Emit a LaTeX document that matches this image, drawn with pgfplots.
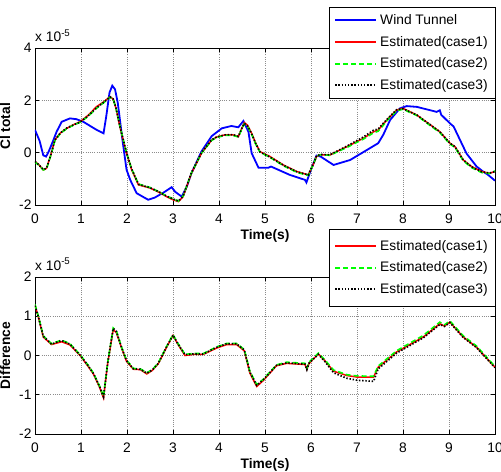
\documentclass[border=0pt]{standalone}
\usepackage{fontspec}
\setmainfont{Liberation Sans}
\usepackage{pgfplots}
\usepackage{pgfplotstable}
\pgfplotsset{compat=1.18}

\definecolor{wtblue}{RGB}{0,0,255}
\definecolor{c1red}{RGB}{255,0,0}
\definecolor{c2green}{RGB}{0,255,0}

\newcommand\chartfont{\fontsize{13.8bp}{16bp}\selectfont}

% Wind tunnel measurement (units of 1e-5)
\pgfplotstableread{
t      v
0.00   0.87
0.10   0.45
0.18  -0.10
0.24  -0.15
0.30   0.05
0.40   0.48
0.47   0.80
0.58   1.18
0.76   1.31
0.90   1.28
1.05   1.18
1.20   1.02
1.35   0.86
1.49   0.74
1.55   1.40
1.62   2.30
1.68   2.56
1.74   2.42
1.80   1.90
1.90   0.50
1.99  -0.65
2.07  -1.04
2.21  -1.55
2.46  -1.80
2.60  -1.72
2.80  -1.52
2.97  -1.32
3.05  -1.50
3.19  -1.68
3.30  -1.30
3.40  -0.79
3.62   0.05
3.84   0.63
4.06   0.93
4.27   1.02
4.42   0.97
4.53   1.21
4.64   0.80
4.71  -0.02
4.86  -0.58
5.07  -0.58
5.13  -0.53
5.54  -0.85
5.87  -1.04
5.90  -1.14
6.00  -0.65
6.12  -0.11
6.21  -0.15
6.49  -0.47
6.85  -0.28
7.28   0.17
7.46   0.36
7.57   0.68
7.72   1.25
7.93   1.69
8.08   1.78
8.30   1.75
8.73   1.56
8.80   1.62
8.83   1.45
9.02   1.12
9.10   1.00
9.38  -0.03
9.60  -0.53
9.74  -0.72
9.85  -0.85
10.00 -1.07
}\windtunnel

% Estimated Cl total, three cases (units of 1e-5)
\pgfplotstableread{
t      c1     c2     c3
0.00  -0.34  -0.36  -0.33
0.08  -0.45  -0.47  -0.46
0.18  -0.66  -0.66  -0.64
0.25  -0.60  -0.62  -0.60
0.35  -0.05  -0.08  -0.05
0.43   0.48   0.45   0.47
0.55   0.75   0.73   0.75
0.69   0.93   0.92   0.94
0.85   1.08   1.06   1.07
0.98   1.18   1.16   1.17
1.15   1.42   1.38   1.40
1.34   1.76   1.70   1.72
1.50   1.95   1.92   1.93
1.63   2.14   2.12   2.13
1.70   2.05   2.04   2.05
1.76   1.70   1.70   1.72
1.85   0.95   0.98   0.98
1.99  -0.02   0.00   0.00
2.10  -0.65  -0.62  -0.62
2.25  -1.23  -1.20  -1.21
2.50  -1.35  -1.33  -1.34
2.70  -1.52  -1.50  -1.50
2.86  -1.68  -1.66  -1.66
3.00  -1.80  -1.76  -1.77
3.12  -1.87  -1.85  -1.85
3.22  -1.68  -1.66  -1.66
3.40  -0.79  -0.78  -0.77
3.62  -0.02  -0.02   0.00
3.84   0.48   0.47   0.49
3.95   0.60   0.58   0.60
4.13   0.68   0.66   0.68
4.30   0.68   0.66   0.69
4.42   0.61   0.60   0.62
4.50   0.95   0.92   0.94
4.55   1.15   1.10   1.12
4.62   1.05   1.00   1.02
4.71   0.74   0.70   0.72
4.80   0.35   0.32   0.34
4.89   0.04   0.02   0.03
5.11  -0.15  -0.18  -0.17
5.40  -0.47  -0.50  -0.48
5.69  -0.72  -0.75  -0.73
5.94  -0.85  -0.87  -0.85
6.05  -0.45  -0.45  -0.43
6.12  -0.15  -0.14  -0.13
6.20  -0.08  -0.08  -0.07
6.41  -0.09  -0.10  -0.08
6.78   0.23   0.20   0.25
7.14   0.55   0.52   0.60
7.36   0.80   0.76   0.86
7.46   0.86   0.82   0.90
7.55   1.05   1.00   1.08
7.65   1.25   1.22   1.27
7.86   1.63   1.60   1.64
8.00   1.69   1.66   1.68
8.30   1.44   1.42   1.44
8.55   1.12   1.09   1.12
8.80   0.80   0.77   0.80
9.02   0.36   0.33   0.36
9.13   0.23   0.20   0.23
9.31  -0.28  -0.31  -0.28
9.49  -0.53  -0.57  -0.54
9.71  -0.72  -0.76  -0.73
9.88  -0.79  -0.80  -0.78
10.00 -0.72  -0.70  -0.72
}\estimated

% Difference between measurement and estimate (units of 1e-5)
\pgfplotstableread{
t      c1     c2     c3
0.00   1.28   1.30   1.27
0.08   0.95   0.97   0.96
0.18   0.47   0.50   0.49
0.36   0.28   0.30   0.29
0.45   0.31   0.34   0.33
0.58   0.35   0.39   0.38
0.76   0.27   0.30   0.29
0.98   0.00   0.02   0.01
1.15  -0.27  -0.24  -0.25
1.27  -0.47  -0.45  -0.46
1.40  -0.80  -0.77  -0.78
1.49  -1.08  -1.04  -1.05
1.58  -0.20  -0.18  -0.19
1.70   0.66   0.70   0.69
1.77   0.58   0.62   0.61
1.88   0.20   0.22   0.21
1.99  -0.15  -0.12  -0.13
2.14  -0.35  -0.33  -0.34
2.29  -0.36  -0.34  -0.35
2.43  -0.47  -0.44  -0.45
2.55  -0.38  -0.36  -0.37
2.68  -0.21  -0.19  -0.20
2.86   0.21   0.23   0.22
3.00   0.51   0.53   0.52
3.10   0.30   0.32   0.31
3.26   0.00   0.03   0.02
3.45   0.03   0.05   0.04
3.66   0.03   0.05   0.04
3.95   0.19   0.22   0.21
4.17   0.28   0.31   0.30
4.38   0.28   0.31   0.30
4.55   0.12   0.15   0.14
4.67  -0.44  -0.40  -0.42
4.82  -0.79  -0.74  -0.76
4.96  -0.64  -0.61  -0.62
5.25  -0.26  -0.24  -0.25
5.47  -0.20  -0.17  -0.19
5.87  -0.23  -0.20  -0.22
5.91  -0.35  -0.32  -0.36
5.96  -0.20  -0.17  -0.19
6.16   0.04   0.06   0.03
6.30  -0.13  -0.11  -0.15
6.49  -0.40  -0.37  -0.44
6.78  -0.51  -0.49  -0.58
7.00  -0.55  -0.52  -0.63
7.36  -0.55  -0.53  -0.66
7.46  -0.30  -0.27  -0.34
7.86   0.09   0.12   0.06
8.44   0.47   0.51   0.45
8.80   0.81   0.85   0.79
8.90   0.75   0.78   0.74
9.02   0.85   0.88   0.84
9.31   0.47   0.50   0.46
9.60   0.21   0.24   0.20
10.00 -0.30  -0.28  -0.31
}\difference

\pgfplotsset{
  panel/.style={
    scale only axis, width=460bp, height=157bp,
    anchor=south west,
    xmin=0, xmax=10,
    xtick={0,1,2,3,4,5,6,7,8,9,10},
    xticklabels={0,1,2,3,4,5,6,7,8,9,10},
    grid=major,
    major grid style={gray!90, line width=0.6bp, dash pattern=on 1bp off 1.2bp},
    tick align=inside, tick pos=both, major tick length=4bp,
    axis line style={line width=0.8bp},
    every tick/.style={black, line width=0.6bp},
    tick label style={font=\chartfont},
    xticklabel style={yshift=-5.5bp},
    label style={font=\chartfont\bfseries, inner sep=0pt},
    xlabel={Time(s)},
    xlabel style={at={(axis description cs:0.5,-0.153)}, anchor=north},
    ylabel style={at={(axis description cs:-0.0543,0.5)}, anchor=base, rotate=0},
    legend cell align=left,
    legend style={font=\chartfont, draw=black, line width=0.8bp, fill=white,
      inner xsep=5bp, inner ysep=5.2bp, row sep=6.1bp,
      nodes={inner xsep=3bp, inner ysep=2bp}},
  },
  wt/.style={color=wtblue, line width=1.8bp},
  case1/.style={color=c1red, line width=1.5bp},
  case2/.style={color=c2green, line width=1.6bp, dash pattern=on 5bp off 3bp},
  case3/.style={color=black, line width=1.7bp, dash pattern=on 1.4bp off 1.8bp},
  % legend samples: a 41bp stroke in each series' own colour and pattern
  wtkey/.style={legend image code/.code={\draw[wtblue, line width=2bp] (0bp,0bp) -- (41bp,0bp);}},
  c1key/.style={legend image code/.code={\draw[c1red, line width=2bp] (0bp,0bp) -- (41bp,0bp);}},
  c2key/.style={legend image code/.code={\draw[c2green, line width=2bp, dash pattern=on 5bp off 3bp] (0bp,0bp) -- (41bp,0bp);}},
  c3key/.style={legend image code/.code={\draw[black, line width=2bp, dash pattern=on 1.4bp off 1.8bp] (0bp,0bp) -- (41bp,0bp);}},
}

\begin{document}
\begin{tikzpicture}
\begin{axis}[panel,
  at={(35bp,267bp)},
  ymin=-2, ymax=4, ytick={-2,0,2,4}, yticklabels={-2,0,2,4},
  ylabel={Cl total},
  legend style={at={(axis description cs:1.0022,1.261)}, anchor=north east},
  extra description/.code={\node[anchor=base west, inner sep=0pt, font=\chartfont]
    at ([yshift=6.5bp]axis description cs:0,1) {x 10\textsuperscript{-5}};},
]
\addplot[wt, wtkey] table[x=t, y=v] {\windtunnel};
\addplot[case1, c1key] table[x=t, y=c1] {\estimated};
\addplot[case2, c2key] table[x=t, y=c2] {\estimated};
\addplot[case3, c3key] table[x=t, y=c3] {\estimated};
\legend{Wind Tunnel, Estimated(case1), Estimated(case2), Estimated(case3)}
\end{axis}

\begin{axis}[panel,
  at={(35bp,38bp)},
  ymin=-2, ymax=2, ytick={-2,-1,0,1,2}, yticklabels={-2,-1,0,1,2},
  ylabel={Difference},
  legend style={at={(axis description cs:1.0022,1.306)}, anchor=north east,
    inner ysep=9bp},
  extra description/.code={\node[anchor=base west, inner sep=0pt, font=\chartfont]
    at ([yshift=7bp]axis description cs:0,1) {x 10\textsuperscript{-5}};},
]
\addplot[case1, c1key] table[x=t, y=c1] {\difference};
\addplot[case2, c2key] table[x=t, y=c2] {\difference};
\addplot[case3, c3key] table[x=t, y=c3] {\difference};
\legend{Estimated(case1), Estimated(case2), Estimated(case3)}
\end{axis}

\pgfresetboundingbox
\useasboundingbox (0bp,0bp) rectangle (501bp,472bp);
\end{tikzpicture}
\end{document}
